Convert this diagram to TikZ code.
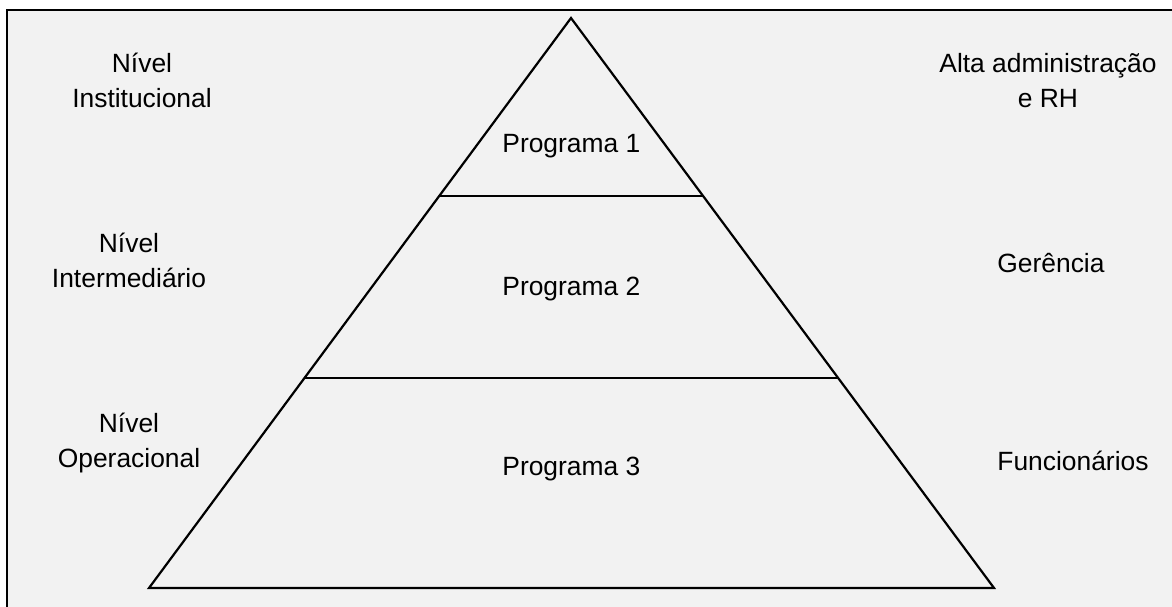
\documentclass[tikz,border=0pt]{standalone}
\usepackage{fontspec}
\setmainfont{Liberation Sans}
\usetikzlibrary{calc}
\definecolor{bgGray}{RGB}{242,242,242}
\tikzset{lbl/.style = {font=\fontsize{13.2}{17.5}\selectfont, inner sep=0pt, align=center, anchor=base}}

\begin{document}
\begin{tikzpicture}[x=0.5pt,y=-0.5pt]
\useasboundingbox (0,0) rectangle (1172,606);
\clip (0,0) rectangle (1172,606);
\draw [line width=1.3pt, fill=bgGray] (7,10) rectangle (1190,620);
% piramide
\coordinate (apex) at (571,18);
\coordinate (baseL) at (149,588);
\coordinate (baseR) at (994,588);
\draw [line width=1.1pt] (apex) -- (baseL) -- (baseR) -- cycle;
\draw [line width=1.1pt] ($(apex)!0.3123!(baseL)$) -- ($(apex)!0.3123!(baseR)$);
\draw [line width=1.1pt] ($(apex)!0.6316!(baseL)$) -- ($(apex)!0.6316!(baseR)$);
% textos
\node [lbl] (nivInst) at (142,107) {Nível\\Institucional};
\node [lbl] (nivInter) at (129,287) {Nível\\Intermediário};
\node [lbl] (nivOper) at (129,467) {Nível\\Operacional};
\node [lbl] (altaAdm) at (1048,107) {Alta administração\\e RH};
\node [lbl, anchor=base west] (gerencia) at (997,272) {Gerência};
\node [lbl, anchor=base west] (funcionarios) at (997,470) {Funcionários};
\node [lbl, anchor=base west] (prog1) at (502,152) {Programa 1};
\node [lbl, anchor=base west] (prog2) at (502,295) {Programa 2};
\node [lbl, anchor=base west] (prog3) at (502,475) {Programa 3};
\end{tikzpicture}
\end{document}
